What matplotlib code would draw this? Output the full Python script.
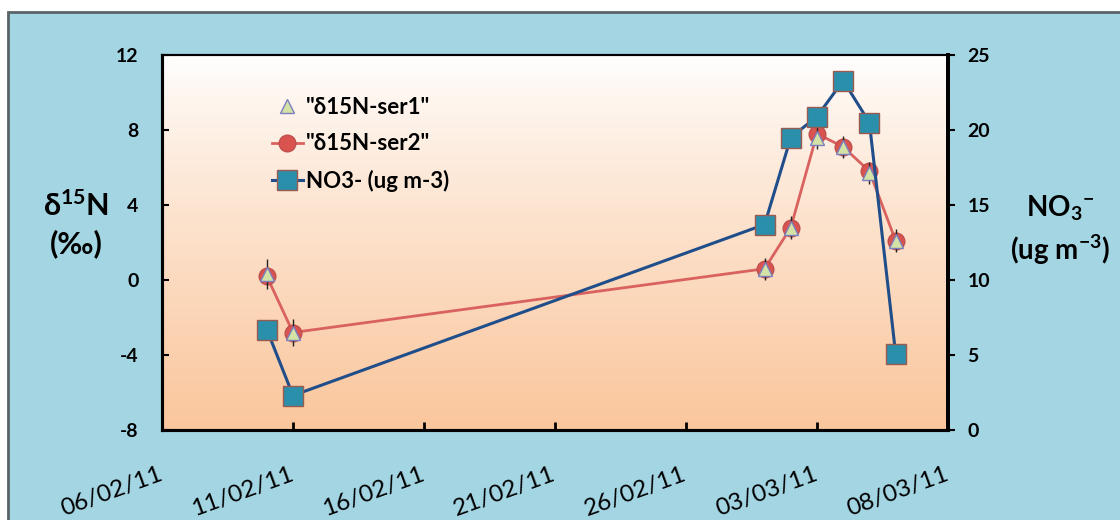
import numpy as np
import pandas as pd
import matplotlib
matplotlib.use("Agg")
import matplotlib.pyplot as plt
import matplotlib.dates as mdates
from matplotlib.patches import Rectangle

plt.rcParams['font.family'] = ['Lato', 'DejaVu Sans']
plt.rcParams['mathtext.fontset'] = 'custom'
plt.rcParams['mathtext.rm'] = 'Lato:bold'
plt.rcParams['mathtext.bf'] = 'Lato:bold'
plt.rcParams['mathtext.default'] = 'bf'
plt.rcParams['axes.unicode_minus'] = False

# Sampling dates and measured values
dates = ['2011-02-10', '2011-02-11', '2011-03-01', '2011-03-02',
         '2011-03-03', '2011-03-04', '2011-03-05', '2011-03-06']
d15n_ser1 = [0.3, -2.8, 0.6, 2.8, 7.6, 7.1, 5.7, 2.1]
d15n_ser2 = [0.2, -2.8, 0.6, 2.8, 7.8, 7.1, 5.8, 2.1]
d15n_err = [0.8, 0.7, 0.6, 0.6, 0.6, 0.6, 0.6, 0.6]
no3 = [6.7, 2.3, 13.7, 19.5, 20.9, 23.3, 20.5, 5.1]

left_ticks = [-8, -4, 0, 4, 8, 12]
right_ticks = [0, 5, 10, 15, 20, 25]
x_ticks = ['2011-02-06', '2011-02-11', '2011-02-16', '2011-02-21',
           '2011-02-26', '2011-03-03', '2011-03-08']

x = pd.to_datetime(dates)
xt = pd.to_datetime(x_ticks)

BG = '#A3D5E3'
fig = plt.figure(figsize=(11.2, 5.2), dpi=100)
fig.patch.set_facecolor('white')
fig.patches.append(Rectangle((8 / 1120, -0.1), 1.2, 1 - 12 / 520 + 0.1,
                             transform=fig.transFigure, facecolor=BG,
                             edgecolor='#5A6468', linewidth=2, zorder=-10))

ax = fig.add_axes([162 / 1120, 1 - 430 / 520, 786 / 1120, 375 / 520])
ax.patch.set_visible(False)

# vertical white-to-peach gradient behind the plot
grad = np.linspace(0, 1, 256).reshape(-1, 1)
top = np.array([255, 255, 255]) / 255
bot = np.array([250, 198, 156]) / 255
img = top + (bot - top) * grad[..., None] ** 0.85
ax.imshow(img.reshape(256, 1, 3), extent=[0, 1, 0, 1], transform=ax.transAxes,
          aspect='auto', zorder=0, origin='upper')

red = '#D9625E'
blue = '#1F4E8A'

l2, = ax.plot(x, d15n_ser2, color=red, lw=2.0, marker='o', ms=12,
              mfc='#D9534F', mec='#C0504D', zorder=3)
ax.errorbar(x, d15n_ser1, yerr=d15n_err, fmt='none', ecolor='#222222',
            elinewidth=1.0, capsize=0, zorder=4)
l1, = ax.plot(x, d15n_ser1, ls='none', marker='^', ms=10,
              mfc='#D4E2A6', mec='#7B7FC0', mew=1.0, zorder=5)

ax.set_ylim(-8, 12)
ax.set_yticks(left_ticks)
ax.set_xlim(pd.Timestamp('2011-02-06'), pd.Timestamp('2011-03-08'))
ax.set_xticks(xt)
ax.xaxis.set_major_formatter(mdates.DateFormatter('%d/%m/%y'))

ax2 = ax.twinx()
l3, = ax2.plot(x, no3, color=blue, lw=2.2, marker='s', ms=14,
               mfc='#2A8FAA', mec='#9A5A50', mew=1.0, zorder=3)
ax2.set_ylim(0, 25)
ax2.set_yticks(right_ticks)

for a in (ax, ax2):
    for s in a.spines.values():
        s.set_color('black')
    a.spines['left'].set_linewidth(2.2)
    a.spines['bottom'].set_linewidth(2.2)
    a.spines['right'].set_linewidth(2.8)
    a.spines['top'].set_linewidth(1.5)

ax.tick_params(axis='y', direction='in', length=5, width=1.5, pad=17,
               labelsize=14)
ax.tick_params(axis='x', direction='in', length=6, width=2, pad=31,
               labelsize=17.5)
for lab in ax.get_yticklabels():
    lab.set_fontweight('bold')
for lab in ax.get_xticklabels():
    lab.set_rotation(20)
    lab.set_ha('right')
    lab.set_va('center')
    lab.set_rotation_mode('anchor')

ax2.tick_params(axis='y', direction='out', length=5, width=1.5, pad=9,
                labelsize=14)
for lab in ax2.get_yticklabels():
    lab.set_fontweight('bold')

fig.text(76 / 1120, 1 - 224 / 520, 'δ$^{15}$N\n(‰)', ha='center',
         va='center', fontsize=22, fontweight='bold', linespacing=1.35)
fig.text(1060 / 1120, 1 - 230 / 520, 'NO$_3$$^{-}$\n(ug m$^{-3}$)',
         ha='center', va='center', fontsize=20, fontweight='bold', linespacing=1.35)

leg = ax2.legend([l1, l2, l3], ['"δ15N-ser1"', '"δ15N-ser2"', 'NO3- (ug m-3)'],
                 loc='upper left', bbox_to_anchor=(0.12, 0.93), frameon=False,
                 handlelength=1.4, handletextpad=0.15, labelspacing=0.7,
                 borderpad=0.2, prop={'weight': 'bold', 'size': 16})

fig.savefig('out.png', dpi=100)
